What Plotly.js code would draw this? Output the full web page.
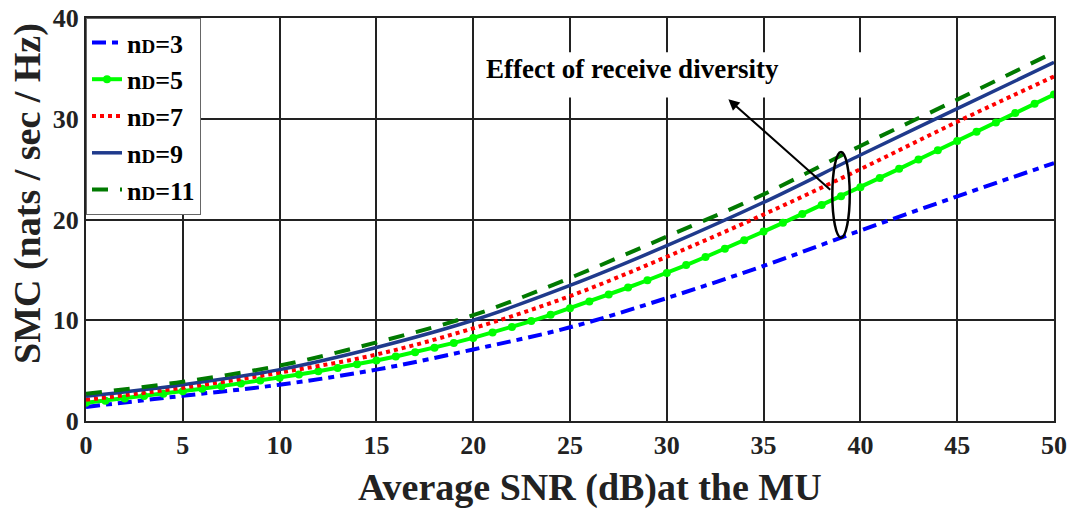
<!DOCTYPE html>
<html>
<head>
<meta charset="utf-8">
<script src="https://cdn.plot.ly/plotly-3.0.1.min.js"></script>
<style>html,body{margin:0;padding:0;background:#fff;}#chart{width:1069px;height:512px;}</style>
</head>
<body>
<div id="chart"></div>
<script>
// SNR grid (dB)
const snrFine = [0,1,2,3,4,5,6,7,8,9,10,11,12,13,14,15,16,17,18,19,20,21,22,23,24,25,26,27,28,29,30,31,32,33,34,35,36,37,38,39,40,41,42,43,44,45,46,47,48,49,50];
const snrCoarse = [0,5,10,15,20,25,30,35,40,45,50];

// SMC values (nats/sec/Hz)
const nD3 = [1.4, 2.5, 3.6, 5.1, 7.1, 9.3, 12.2, 15.4, 18.9, 22.3, 25.6];
const nD5 = [1.80,2.02,2.24,2.47,2.71,2.95,3.20,3.46,3.73,4.01,4.30,4.61,4.93,5.27,5.63,6.00,6.40,6.82,7.27,7.75,8.25,8.78,9.33,9.92,10.54,11.20,11.87,12.55,13.25,13.97,14.70,15.48,16.28,17.10,17.94,18.80,19.67,20.55,21.43,22.31,23.20,24.11,25.03,25.95,26.88,27.80,28.72,29.64,30.56,31.48,32.40];
const nD7 = [2.1, 3.3, 4.8, 6.6, 9.2, 12.4, 16.3, 20.5, 25.0, 29.7, 34.2];
const nD9 = [2.45, 3.6, 5.1, 7.3, 10.0, 13.45, 17.4, 21.7, 26.4, 31.0, 35.6];
const nD11 = [2.7, 3.9, 5.5, 7.8, 10.5, 14.2, 18.3, 22.5, 27.3, 31.9, 36.6];

const sub = 'n<span style="font-size:19px">D</span>=';
const legendNames = [sub + '3', sub + '5', sub + '7', sub + '9', sub + '11'];
const xTitle = 'Average SNR (dB)at the MU';
const yTitle = 'SMC (nats / sec / Hz)';
const noteText = 'Effect of receive diversity';

const FONT = 'Liberation Serif, Times New Roman, serif';

const traces = [
  {x: snrCoarse, y: nD3, name: legendNames[0], mode: 'lines', legendgroup: 'a',
   line: {color: '#0000FF', width: 4, dash: '14px,6px,6px,6px', shape: 'spline'}},
  {x: snrFine, y: nD5, name: legendNames[1], mode: 'lines+markers', legendgroup: 'b',
   line: {color: '#00FF00', width: 4}, marker: {color: '#00FF00', size: 8, symbol: 'circle'}},
  {x: snrCoarse, y: nD7, name: legendNames[2], mode: 'lines', legendgroup: 'c',
   line: {color: '#FF0000', width: 4, dash: '4px,4px', shape: 'spline'}},
  {x: snrCoarse, y: nD9, name: legendNames[3], mode: 'lines', legendgroup: 'd',
   line: {color: '#1F3A8C', width: 3.5, shape: 'spline'}},
  {x: snrCoarse, y: nD11, name: legendNames[4], mode: 'lines', legendgroup: 'e',
   line: {color: '#007A00', width: 4, dash: '16px,12px', shape: 'spline'}}
];

const layout = {
  width: 1069, height: 512,
  margin: {l: 86, r: 15, t: 18, b: 91},
  paper_bgcolor: '#fff', plot_bgcolor: '#fff',
  font: {family: FONT, color: '#222', weight: 'bold'},
  showlegend: true,
  legend: {x: 0, y: 1, xanchor: 'left', yanchor: 'top', bgcolor: '#fff',
    bordercolor: '#666', borderwidth: 1, font: {family: FONT, size: 26, color: '#000', weight: 'bold'},
    tracegroupgap: 0},
  xaxis: {range: [0, 50], dtick: 5, tick0: 0, showgrid: true, gridcolor: '#222', gridwidth: 2,
    showline: true, linecolor: '#222', linewidth: 2, mirror: true, zeroline: false, ticks: '',
    tickfont: {family: FONT, size: 26, color: '#222', weight: 'bold'}},
  yaxis: {range: [0, 40], dtick: 10, tick0: 0, showgrid: true, gridcolor: '#222', gridwidth: 2,
    showline: true, linecolor: '#222', linewidth: 2, mirror: true, zeroline: false, ticks: '',
    tickfont: {family: FONT, size: 26, color: '#222', weight: 'bold'}},
  shapes: [
    {type: 'rect', xref: 'x', yref: 'y', x0: 20.3, x1: 40.05, y0: 32.1, y1: 36.6,
     fillcolor: '#fff', line: {width: 0}, layer: 'between'},
    {type: 'circle', xref: 'x', yref: 'y', x0: 38.55, x1: 39.45, y0: 18.2, y1: 26.7,
     line: {color: '#000', width: 2.5}, layer: 'above'}
  ],
  annotations: [
    {x: 20.55, y: 34.9, xref: 'x', yref: 'y', text: noteText, showarrow: false,
     xanchor: 'left', yanchor: 'middle', font: {family: FONT, size: 27, color: '#000', weight: 'bold'}},
    {x: 33.18, y: 31.93, xref: 'x', yref: 'y', ax: 38.52, ay: 22.82, axref: 'x', ayref: 'y',
     text: '', showarrow: true, arrowhead: 2, arrowsize: 1.1, arrowwidth: 2, arrowcolor: '#000'},
    {x: 590, y: 488, xref: 'paper', yref: 'paper', text: xTitle, showarrow: false,
     xanchor: 'center', yanchor: 'middle', font: {family: FONT, size: 38, color: '#222', weight: 'bold'}},
    {x: 27, y: 194, xref: 'paper', yref: 'paper', text: yTitle, showarrow: false, textangle: -90,
     xanchor: 'center', yanchor: 'middle', font: {family: FONT, size: 38, color: '#222', weight: 'bold'}}
  ]
};

// convert pixel positions of the axis titles to paper fractions
const plotW = 1069 - 86 - 15, plotH = 512 - 18 - 91;
layout.annotations[2].x = (590 - 86) / plotW;
layout.annotations[2].y = (512 - 91 - 488) / plotH;
layout.annotations[3].x = (27 - 86) / plotW;
layout.annotations[3].y = (512 - 91 - 194) / plotH;

Plotly.newPlot('chart', traces, layout, {displayModeBar: false, staticPlot: true});
</script>
</body>
</html>
